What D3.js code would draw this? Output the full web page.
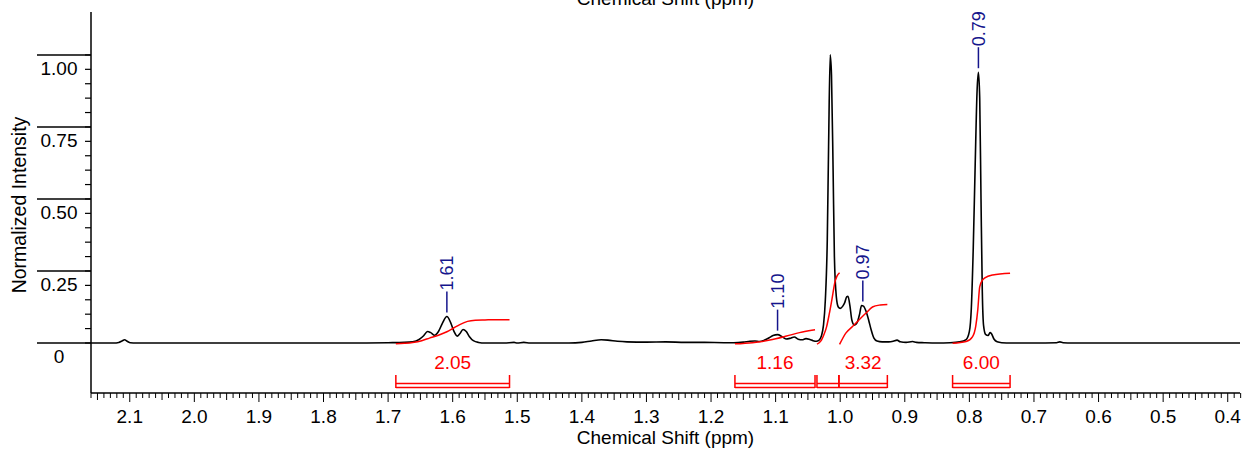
<!DOCTYPE html>
<html>
<head>
<meta charset="utf-8">
<script src="https://cdn.jsdelivr.net/npm/d3@7"></script>
<style>
  body { margin: 0; background: #fff; }
  svg text { font-family: "Liberation Sans", Arial, sans-serif; }
</style>
</head>
<body>
<svg id="mainSVG"></svg>
<script>
// spectrum: [ppm, normalized intensity]
var spectrum = [
  [2.160, 0], [2.125, 0], [2.117, 0.002], [2.112, 0.007], [2.108, 0.011], [2.104, 0.006], [2.099, 0.001], [2.090, 0],
  [1.900, 0], [1.750, 0], [1.700, 0.001], [1.675, 0.002], [1.662, 0.004], [1.652, 0.012], [1.645, 0.025],
  [1.639, 0.040], [1.634, 0.036], [1.628, 0.027], [1.622, 0.040], [1.616, 0.068], [1.609, 0.092], [1.603, 0.070],
  [1.598, 0.040], [1.593, 0.024], [1.589, 0.032], [1.584, 0.047], [1.579, 0.040], [1.574, 0.022], [1.568, 0.008],
  [1.560, 0.002], [1.550, 0], [1.520, 0], [1.505, 0.002], [1.500, 0], [1.490, 0.002], [1.480, 0],
  [1.420, 0], [1.400, 0.002], [1.385, 0.007], [1.370, 0.011], [1.360, 0.010], [1.345, 0.006], [1.330, 0.004],
  [1.300, 0.003], [1.270, 0.004], [1.240, 0.002], [1.210, 0.002], [1.180, 0.001], [1.165, 0.001],
  [1.150, 0.003], [1.140, 0.006], [1.132, 0.007], [1.125, 0.005], [1.117, 0.010], [1.110, 0.018], [1.104, 0.026],
  [1.097, 0.029], [1.090, 0.022], [1.084, 0.014], [1.078, 0.016], [1.071, 0.021], [1.065, 0.013], [1.059, 0.011],
  [1.053, 0.015], [1.047, 0.012], [1.042, 0.008], [1.037, 0.006], [1.033, 0.009],
  [1.029, 0.025], [1.026, 0.060], [1.023, 0.150], [1.020, 0.360], [1.018, 0.680], [1.0155, 1.000], [1.0135, 0.930],
  [1.011, 0.600], [1.009, 0.300], [1.006, 0.160], [1.003, 0.125], [1.000, 0.120], [0.996, 0.128], [0.993, 0.140],
  [0.990, 0.160], [0.988, 0.162], [0.985, 0.130], [0.982, 0.080], [0.978, 0.062], [0.974, 0.070], [0.970, 0.100],
  [0.967, 0.130], [0.964, 0.128], [0.960, 0.110], [0.956, 0.080], [0.952, 0.045], [0.948, 0.018], [0.943, 0.007],
  [0.935, 0.004], [0.925, 0.004], [0.918, 0.006], [0.912, 0.010], [0.907, 0.004], [0.898, 0.002], [0.888, 0.005],
  [0.882, 0.002], [0.870, 0.001], [0.850, 0],
  [0.830, 0.001], [0.815, 0.004], [0.805, 0.012], [0.800, 0.040], [0.797, 0.120], [0.794, 0.330], [0.791, 0.620],
  [0.788, 0.880], [0.786, 0.940], [0.784, 0.850], [0.782, 0.500], [0.780, 0.180], [0.778, 0.060], [0.775, 0.030],
  [0.771, 0.026], [0.768, 0.036], [0.766, 0.033], [0.762, 0.014], [0.757, 0.004], [0.750, 0.001], [0.735, 0],
  [0.700, 0], [0.665, 0.001], [0.660, 0.004], [0.655, 0.001], [0.640, 0], [0.381, 0]
];

// integral curves (red), same intensity units
var integral1 = [[1.688, -0.003], [1.675, -0.001], [1.662, 0.002], [1.648, 0.008], [1.636, 0.017], [1.622, 0.027],
  [1.609, 0.039], [1.598, 0.053], [1.589, 0.064], [1.577, 0.075], [1.565, 0.079], [1.550, 0.080], [1.530, 0.081], [1.512, 0.081]];
var integral2 = [[1.163, -0.003], [1.136, 0.001], [1.109, 0.010], [1.083, 0.024], [1.063, 0.036], [1.039, 0.046]];
var integral3 = [[1.036, -0.004], [1.033, 0.000], [1.029, 0.010], [1.025, 0.030], [1.021, 0.057], [1.017, 0.100],
  [1.013, 0.149], [1.008, 0.213], [1.005, 0.232], [1.001, 0.244]];
var integral4 = [[1.001, -0.005], [0.991, 0.035], [0.981, 0.057], [0.971, 0.080], [0.960, 0.104], [0.950, 0.125],
  [0.938, 0.132], [0.927, 0.134]];
var integral5 = [[0.826, -0.001], [0.805, 0.005], [0.795, 0.022], [0.790, 0.060], [0.787, 0.115], [0.784, 0.195],
  [0.780, 0.217], [0.776, 0.226], [0.764, 0.236], [0.737, 0.242]];

// integration ranges and their values
var integralFrom = [1.688, 1.163, 1.036, 1.002, 0.826];
var integralTo = [1.512, 1.039, 1.002, 0.927, 0.737];
var integralLabels = ["2.05", "1.16", "", "3.32", "6.00"];

// peak picking labels
var peakPpm = [1.609, 1.097, 0.965, 0.786];
var peakHeight = [0.092, 0.029, 0.130, 0.940];
var peakLabels = ["1.61", "1.10", "0.97", "0.79"];

// axes
var xTickValues = [2.1, 2.0, 1.9, 1.8, 1.7, 1.6, 1.5, 1.4, 1.3, 1.2, 1.1, 1.0, 0.9, 0.8, 0.7, 0.6, 0.5, 0.4];
var xTickLabels = ["2.1", "2.0", "1.9", "1.8", "1.7", "1.6", "1.5", "1.4", "1.3", "1.2", "1.1", "1.0", "0.9", "0.8", "0.7", "0.6", "0.5", "0.4"];
var yTickValues = [0, 0.25, 0.5, 0.75, 1.0];
var yTickLabels = ["0", "0.25", "0.50", "0.75", "1.00"];

var width = 1243, height = 450;
var plotLeft = 91, plotRight = 1240, plotTop = 12, plotBottom = 393;

var svg = d3.select("#mainSVG").attr("width", width).attr("height", height);

var x = d3.scaleLinear().domain([2.160, 0.381]).range([plotLeft, plotRight]);
var y = d3.scaleLinear().domain([-0.1736, 1.149]).range([plotBottom, plotTop]);

var navy = "#15158c";
var red = "#ff0000";

// ---- y axis ----
svg.append("line")
  .attr("x1", plotLeft).attr("x2", plotLeft)
  .attr("y1", plotTop).attr("y2", plotBottom)
  .attr("stroke", "#000").attr("stroke-width", 1.5);

// minor ticks every 0.05
svg.append("g").selectAll("line")
  .data(d3.range(0, 1.001, 0.05))
  .enter().append("line")
  .attr("x1", plotLeft - 6).attr("x2", plotLeft)
  .attr("y1", function(d) { return y(d); })
  .attr("y2", function(d) { return y(d); })
  .attr("stroke", "#000").attr("stroke-width", 1.2);

// long major lines, labels sit below them
svg.append("g").selectAll("line")
  .data(yTickValues)
  .enter().append("line")
  .attr("x1", 37).attr("x2", plotLeft)
  .attr("y1", function(d) { return y(d); })
  .attr("y2", function(d) { return y(d); })
  .attr("stroke", "#000").attr("stroke-width", 1.5);

svg.append("g").selectAll("text")
  .data(yTickValues)
  .enter().append("text")
  .attr("x", 59)
  .attr("y", function(d) { return y(d) + 20.5; })
  .attr("text-anchor", "middle")
  .attr("font-size", "19px")
  .text(function(d, i) { return yTickLabels[i]; });

svg.append("text")
  .attr("transform", "translate(26,205) rotate(-90)")
  .attr("text-anchor", "middle")
  .attr("font-size", "19.5px")
  .text("Normalized Intensity");

// ---- x axis ----
svg.append("line")
  .attr("x1", plotLeft).attr("x2", plotRight)
  .attr("y1", plotBottom).attr("y2", plotBottom)
  .attr("stroke", "#000").attr("stroke-width", 1.5);

var minor = d3.range(38, 217).map(function(d) { return d / 100; });
svg.append("g").selectAll("line")
  .data(minor)
  .enter().append("line")
  .attr("x1", function(d) { return x(d); })
  .attr("x2", function(d) { return x(d); })
  .attr("y1", plotBottom)
  .attr("y2", function(d) {
    var k = Math.round(d * 100);
    if (k % 10 == 0) return plotBottom + 9;
    if (k % 5 == 0) return plotBottom + 7;
    return plotBottom + 5;
  })
  .attr("stroke", "#000").attr("stroke-width", 1);

svg.append("g").selectAll("text")
  .data(xTickValues)
  .enter().append("text")
  .attr("x", function(d) { return x(d); })
  .attr("y", 422.5)
  .attr("text-anchor", "middle")
  .attr("font-size", "19px")
  .text(function(d, i) { return xTickLabels[i]; });

svg.append("text")
  .attr("x", (plotLeft + plotRight) / 2)
  .attr("y", 444)
  .attr("text-anchor", "middle")
  .attr("font-size", "19px")
  .text("Chemical Shift (ppm)");

// duplicate title clipped at the top edge
svg.append("text")
  .attr("x", (plotLeft + plotRight) / 2)
  .attr("y", 5)
  .attr("text-anchor", "middle")
  .attr("font-size", "19px")
  .text("Chemical Shift (ppm)");

// ---- spectrum ----
var line = d3.line()
  .x(function(d) { return x(d[0]); })
  .y(function(d) { return y(d[1]); })
  .curve(d3.curveMonotoneX);

svg.append("path")
  .datum(spectrum)
  .attr("d", line)
  .attr("fill", "none")
  .attr("stroke", "#000")
  .attr("stroke-width", 1.6);

// ---- integrals ----
[integral1, integral2, integral3, integral4, integral5].forEach(function(curve) {
  svg.append("path")
    .datum(curve)
    .attr("d", line)
    .attr("fill", "none")
    .attr("stroke", red)
    .attr("stroke-width", 1.5);
});

var brackets = svg.append("g").selectAll("g")
  .data(d3.range(integralFrom.length))
  .enter().append("g");

brackets.append("path")
  .attr("d", function(i) {
    var a = x(integralFrom[i]), b = x(integralTo[i]);
    return "M" + a + ",375V388M" + b + ",375V388" +
      "M" + a + ",383.5H" + b + "M" + a + ",387.5H" + b;
  })
  .attr("fill", "none")
  .attr("stroke", red)
  .attr("stroke-width", 1.5);

brackets.append("text")
  .attr("x", function(i) { return (x(integralFrom[i]) + x(integralTo[i])) / 2; })
  .attr("y", 368.5)
  .attr("text-anchor", "middle")
  .attr("font-size", "19px")
  .attr("fill", red)
  .text(function(i) { return integralLabels[i]; });

// ---- peak labels ----
var peaks = svg.append("g").selectAll("g")
  .data(d3.range(peakPpm.length))
  .enter().append("g");

peaks.append("line")
  .attr("x1", function(i) { return x(peakPpm[i]); })
  .attr("x2", function(i) { return x(peakPpm[i]); })
  .attr("y1", function(i) { return y(peakHeight[i]) - 4; })
  .attr("y2", function(i) { return y(peakHeight[i]) - 25; })
  .attr("stroke", navy)
  .attr("stroke-width", 1.5);

peaks.append("text")
  .attr("transform", function(i) {
    return "translate(" + (x(peakPpm[i]) + 6.5) + "," + (y(peakHeight[i]) - 26) + ") rotate(-90)";
  })
  .attr("font-size", "18px")
  .attr("fill", navy)
  .text(function(i) { return peakLabels[i]; });
</script>
</body>
</html>
